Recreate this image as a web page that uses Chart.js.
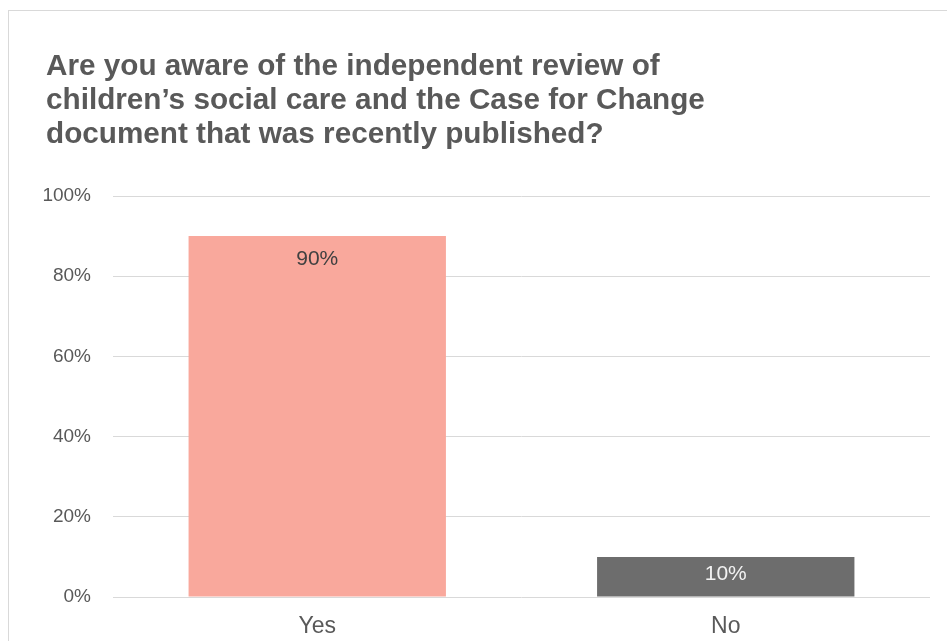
<!DOCTYPE html>
<html>
<head>
<meta charset="utf-8">
<script src="https://cdn.jsdelivr.net/npm/chart.js@4.4.1/dist/chart.umd.min.js"></script>
<style>
  html, body { margin: 0; padding: 0; background: #fff; overflow: hidden; }
  #frame {
    position: absolute; left: 8px; top: 10px; width: 980px; height: 700px;
    border: 1px solid #d9d9d9; box-sizing: border-box;
  }
  #wrap { position: absolute; left: 0; top: 0; width: 947px; height: 641px; }
</style>
</head>
<body>
<div id="frame"></div>
<div id="wrap"><canvas id="chart" width="947" height="641"></canvas></div>
<script>
// Survey question and answers
const titleLines = [
  'Are you aware of the independent review of',
  'children\u2019s social care and the Case for Change',
  'document that was recently published?'
];
const categories = ['Yes', 'No'];
const shares = [90, 10];                      // percent of respondents
const barColors = ['#F9A89C', '#6D6D6D'];
const labelColors = ['#404040', '#F2F2F2'];
const yTicks = [0, 20, 40, 60, 80, 100];

const FONT = '"Liberation Sans", Arial, sans-serif';

// Indent the title a little further than the axis labels
const titleIndent = {
  id: 'titleIndent',
  afterLayout(chart) {
    if (chart.titleBlock) chart.titleBlock.left += 3;
  }
};

// Value labels placed just inside the top of each bar
const valueLabels = {
  id: 'valueLabels',
  afterDatasetsDraw(chart) {
    const ctx = chart.ctx;
    const meta = chart.getDatasetMeta(0);
    ctx.save();
    ctx.font = '21px ' + FONT;
    ctx.textAlign = 'center';
    ctx.textBaseline = 'middle';
    meta.data.forEach((bar, i) => {
      const h = bar.base - bar.y;
      const off = Math.min(23, h / 2 - 2);
      ctx.fillStyle = labelColors[i];
      ctx.fillText(shares[i] + '%', bar.x, bar.y + off);
    });
    ctx.restore();
  }
};

new Chart(document.getElementById('chart'), {
  type: 'bar',
  data: {
    labels: categories,
    datasets: [{
      data: shares,
      backgroundColor: barColors,
      borderWidth: 0,
      barPercentage: 0.63,
      categoryPercentage: 1
    }]
  },
  options: {
    responsive: false,
    animation: false,
    layout: { padding: { left: 43, right: 17, top: 50, bottom: 0 } },
    plugins: {
      legend: { display: false },
      tooltip: { enabled: false },
      title: {
        display: true,
        text: titleLines,
        align: 'start',
        color: '#595959',
        font: { family: FONT, size: 29.7, weight: 'bold', lineHeight: 1.145 },
        padding: { top: 0, bottom: 44 }
      }
    },
    scales: {
      x: {
        grid: { display: false, drawTicks: false },
        border: { display: false },
        afterFit(scale) { scale.height = 44; },
        ticks: {
          color: '#595959',
          padding: 16,
          font: { family: FONT, size: 23 }
        }
      },
      y: {
        min: 0,
        max: 100,
        afterBuildTicks(scale) { scale.ticks = yTicks.map(v => ({ value: v })); },
        afterFit(scale) { scale.width = 70; },
        grid: { color: '#D9D9D9', lineWidth: 1, drawTicks: false },
        border: { display: false },
        ticks: {
          color: '#595959',
          padding: 22,
          font: { family: FONT, size: 19 },
          callback: v => v + '%'
        }
      }
    }
  },
  plugins: [titleIndent, valueLabels]
});
</script>
</body>
</html>
